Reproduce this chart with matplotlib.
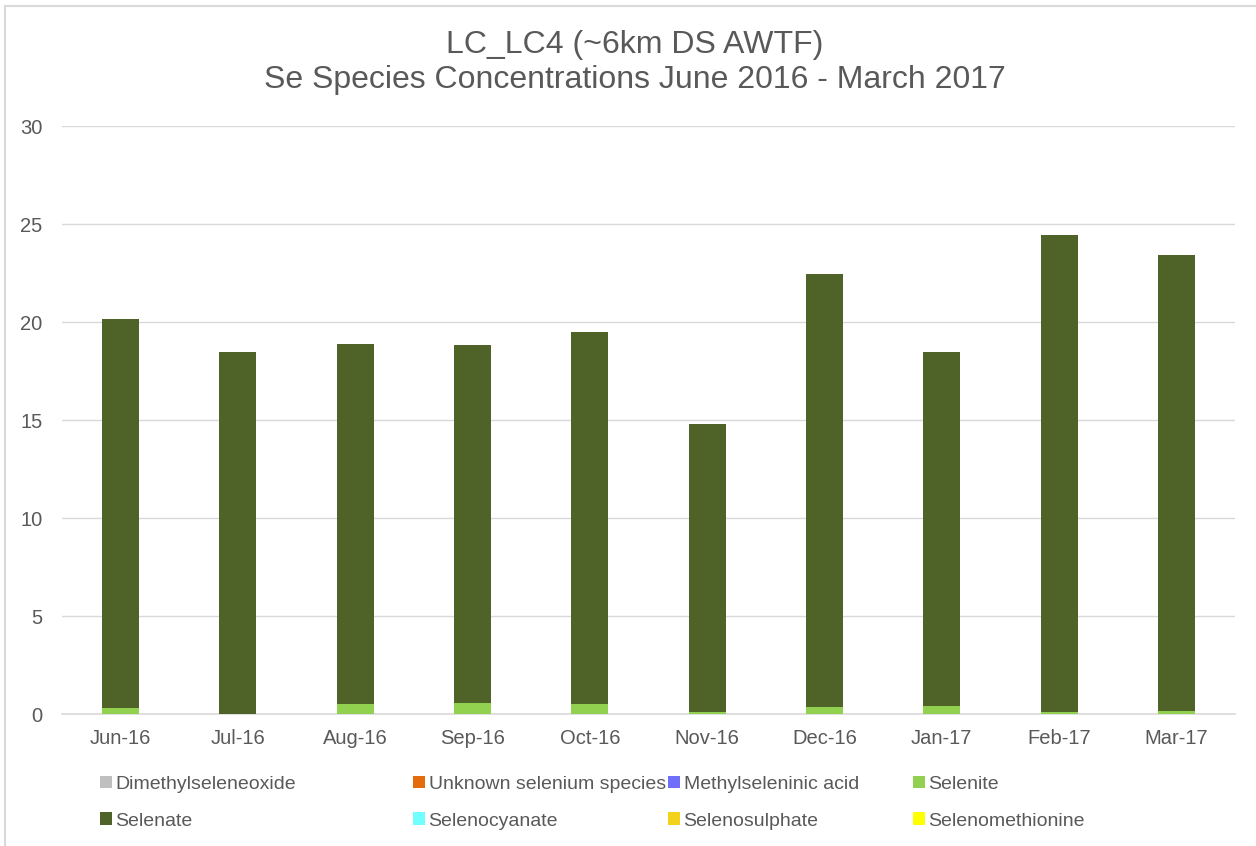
import numpy as np
import matplotlib
matplotlib.use("Agg")
from matplotlib import pyplot as plt
from matplotlib.patches import Patch
from matplotlib.lines import Line2D

plt.rcParams['font.family'] = ['Liberation Sans', 'DejaVu Sans']

months = ["Jun-16", "Jul-16", "Aug-16", "Sep-16", "Oct-16",
          "Nov-16", "Dec-16", "Jan-17", "Feb-17", "Mar-17"]

total = [20.15, 18.47, 18.90, 18.85, 19.50, 14.82, 22.45, 18.48, 24.42, 23.42]
selenite = [0.29, 0.02, 0.51, 0.58, 0.53, 0.12, 0.36, 0.41, 0.10, 0.15]
selenate = [t - s for t, s in zip(total, selenite)]
zeros = [0.0] * len(months)

series = [
    ("Dimethylseleneoxide", zeros, "#BFBFBF"),
    ("Unknown selenium species", zeros, "#E46C0A"),
    ("Methylseleninic acid", zeros, "#6F6FFA"),
    ("Selenite", selenite, "#92D050"),
    ("Selenate", selenate, "#4F6228"),
    ("Selenocyanate", zeros, "#6FFFFF"),
    ("Selenosulphate", zeros, "#F2D21B"),
    ("Selenomethionine", zeros, "#FFFF00"),
]

txt = "#595959"

fig = plt.figure(figsize=(12.56, 8.46), dpi=100)
ax = fig.add_axes([62/1256, 1 - 714/846, (1235 - 62)/1256, (714 - 126)/846])

x = np.arange(len(months))
bottom = np.zeros(len(months))
for name, vals, col in series:
    vals = np.array(vals)
    ax.bar(x, vals, width=0.315, bottom=bottom, color=col, label=name, zorder=3)
    bottom += vals

ax.set_xlim(-0.5, len(months) - 0.5)
ax.set_ylim(0, 30)
ax.set_yticks([0, 5, 10, 15, 20, 25, 30])
ax.set_xticks(x)
ax.set_xticklabels(months)
ax.tick_params(length=0, labelsize=14.5, colors=txt)
ax.tick_params(axis="x", pad=11)
ax.tick_params(axis="y", pad=14)
ax.grid(axis="y", color="#D9D9D9", linewidth=1, zorder=0)
for s in ["top", "right", "left"]:
    ax.spines[s].set_visible(False)
ax.spines["bottom"].set_color("#D9D9D9")
ax.spines["bottom"].set_linewidth(1.2)

fig.text(635/1256, 1 - 45/846, "LC_LC4 (~6km DS AWTF)", ha="center", va="center",
         fontsize=23, color=txt)
fig.text(635/1256, 1 - 80/846, "Se Species Concentrations June 2016 - March 2017",
         ha="center", va="center", fontsize=23, color=txt)

# legend: 4 columns placed at Excel's positions, 2 rows each
col_x = [100, 413, 668, 913]
for c in range(4):
    handles = []
    for r in range(2):
        name, vals, col = series[r * 4 + c]
        handles.append(Patch(facecolor=col, label=name))
    fig.legend(handles=handles, loc="upper left",
               bbox_to_anchor=(col_x[c]/1256, 1 - 776/846),
               frameon=False, fontsize=14, labelcolor=txt,
               handlelength=0.6, handleheight=0.6, handletextpad=0.2,
               labelspacing=1.0, borderaxespad=0, borderpad=0)

# chart frame (cut off at right and bottom)
fig.add_artist(Line2D([5/1256, 5/1256], [0, 1 - 6/846], color="#D9D9D9", lw=1.5))
fig.add_artist(Line2D([5/1256, 1], [1 - 6/846, 1 - 6/846], color="#D9D9D9", lw=1.5))

plt.savefig("out.png", dpi=100)
